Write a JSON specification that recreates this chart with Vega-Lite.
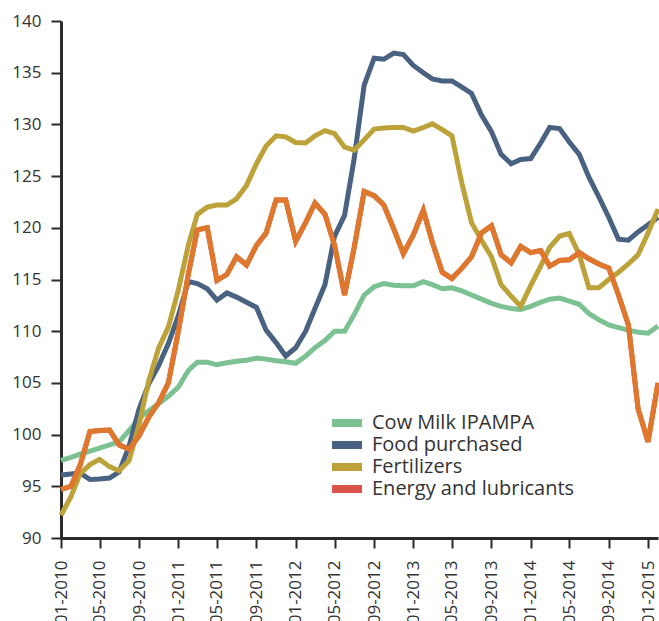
{
  "$schema": "https://vega.github.io/schema/vega-lite/v6.json",
  "autosize": "none",
  "width": 597,
  "height": 517,
  "padding": {"left": 61, "top": 21, "right": 1, "bottom": 83},
  "background": "white",
  "config": {
    "view": {"stroke": null},
    "font": "Open Sans",
    "axis": {"labelFont": "Open Sans", "labelFontSize": 17, "labelColor": "#333333", "domainColor": "#2b2b2b", "domainWidth": 3, "tickColor": "#2b2b2b", "tickWidth": 2, "tickSize": 10, "grid": false, "title": null}
  },
  "data": {"values": [
    {"d": "2010/01/01", "Cow Milk IPAMPA": 97.5, "Food purchased": 96.1, "Fertilizers": 92.2, "Energy and lubricants": 94.7},
    {"d": "2010/02/01", "Cow Milk IPAMPA": 97.8, "Food purchased": 96.2, "Fertilizers": 94.0, "Energy and lubricants": 95.0},
    {"d": "2010/03/01", "Cow Milk IPAMPA": 98.1, "Food purchased": 96.3, "Fertilizers": 96.2, "Energy and lubricants": 97.0},
    {"d": "2010/04/01", "Cow Milk IPAMPA": 98.4, "Food purchased": 95.65, "Fertilizers": 97.1, "Energy and lubricants": 100.3},
    {"d": "2010/05/01", "Cow Milk IPAMPA": 98.7, "Food purchased": 95.7, "Fertilizers": 97.6, "Energy and lubricants": 100.4},
    {"d": "2010/06/01", "Cow Milk IPAMPA": 99.0, "Food purchased": 95.8, "Fertilizers": 96.9, "Energy and lubricants": 100.45},
    {"d": "2010/07/01", "Cow Milk IPAMPA": 99.3, "Food purchased": 96.4, "Fertilizers": 96.5, "Energy and lubricants": 99.0},
    {"d": "2010/08/01", "Cow Milk IPAMPA": 100.4, "Food purchased": 98.9, "Fertilizers": 97.5, "Energy and lubricants": 98.6},
    {"d": "2010/09/01", "Cow Milk IPAMPA": 101.6, "Food purchased": 102.5, "Fertilizers": 101.0, "Energy and lubricants": 99.9},
    {"d": "2010/10/01", "Cow Milk IPAMPA": 102.3, "Food purchased": 104.9, "Fertilizers": 105.2, "Energy and lubricants": 101.7},
    {"d": "2010/11/01", "Cow Milk IPAMPA": 103.0, "Food purchased": 106.7, "Fertilizers": 108.4, "Energy and lubricants": 103.1},
    {"d": "2010/12/01", "Cow Milk IPAMPA": 103.7, "Food purchased": 108.8, "Fertilizers": 110.4, "Energy and lubricants": 105.0},
    {"d": "2011/01/01", "Cow Milk IPAMPA": 104.6, "Food purchased": 111.5, "Fertilizers": 114.0, "Energy and lubricants": 110.0},
    {"d": "2011/02/01", "Cow Milk IPAMPA": 106.2, "Food purchased": 114.8, "Fertilizers": 118.3, "Energy and lubricants": 115.5},
    {"d": "2011/03/01", "Cow Milk IPAMPA": 107.0, "Food purchased": 114.6, "Fertilizers": 121.3, "Energy and lubricants": 119.8},
    {"d": "2011/04/01", "Cow Milk IPAMPA": 107.0, "Food purchased": 114.1, "Fertilizers": 122.0, "Energy and lubricants": 120.0},
    {"d": "2011/05/01", "Cow Milk IPAMPA": 106.75, "Food purchased": 113.0, "Fertilizers": 122.2, "Energy and lubricants": 114.9},
    {"d": "2011/06/01", "Cow Milk IPAMPA": 106.95, "Food purchased": 113.7, "Fertilizers": 122.2, "Energy and lubricants": 115.5},
    {"d": "2011/07/01", "Cow Milk IPAMPA": 107.1, "Food purchased": 113.3, "Fertilizers": 122.8, "Energy and lubricants": 117.2},
    {"d": "2011/08/01", "Cow Milk IPAMPA": 107.2, "Food purchased": 112.8, "Fertilizers": 124.1, "Energy and lubricants": 116.4},
    {"d": "2011/09/01", "Cow Milk IPAMPA": 107.4, "Food purchased": 112.3, "Fertilizers": 126.2, "Energy and lubricants": 118.3},
    {"d": "2011/10/01", "Cow Milk IPAMPA": 107.3, "Food purchased": 110.1, "Fertilizers": 127.9, "Energy and lubricants": 119.5},
    {"d": "2011/11/01", "Cow Milk IPAMPA": 107.15, "Food purchased": 108.9, "Fertilizers": 128.9, "Energy and lubricants": 122.7},
    {"d": "2011/12/01", "Cow Milk IPAMPA": 107.05, "Food purchased": 107.6, "Fertilizers": 128.8, "Energy and lubricants": 122.7},
    {"d": "2012/01/01", "Cow Milk IPAMPA": 106.9, "Food purchased": 108.4, "Fertilizers": 128.25, "Energy and lubricants": 118.7},
    {"d": "2012/02/01", "Cow Milk IPAMPA": 107.6, "Food purchased": 110.0, "Fertilizers": 128.2, "Energy and lubricants": 120.5},
    {"d": "2012/03/01", "Cow Milk IPAMPA": 108.4, "Food purchased": 112.2, "Fertilizers": 128.9, "Energy and lubricants": 122.4},
    {"d": "2012/04/01", "Cow Milk IPAMPA": 109.1, "Food purchased": 114.5, "Fertilizers": 129.4, "Energy and lubricants": 121.3},
    {"d": "2012/05/01", "Cow Milk IPAMPA": 110.0, "Food purchased": 119.2, "Fertilizers": 129.1, "Energy and lubricants": 118.3},
    {"d": "2012/06/01", "Cow Milk IPAMPA": 110.0, "Food purchased": 121.2, "Fertilizers": 127.8, "Energy and lubricants": 113.5},
    {"d": "2012/07/01", "Cow Milk IPAMPA": 111.6, "Food purchased": 126.7, "Fertilizers": 127.5, "Energy and lubricants": 118.1},
    {"d": "2012/08/01", "Cow Milk IPAMPA": 113.5, "Food purchased": 133.8, "Fertilizers": 128.5, "Energy and lubricants": 123.5},
    {"d": "2012/09/01", "Cow Milk IPAMPA": 114.3, "Food purchased": 136.4, "Fertilizers": 129.55, "Energy and lubricants": 123.1},
    {"d": "2012/10/01", "Cow Milk IPAMPA": 114.6, "Food purchased": 136.3, "Fertilizers": 129.65, "Energy and lubricants": 122.2},
    {"d": "2012/11/01", "Cow Milk IPAMPA": 114.45, "Food purchased": 136.9, "Fertilizers": 129.7, "Energy and lubricants": 119.9},
    {"d": "2012/12/01", "Cow Milk IPAMPA": 114.4, "Food purchased": 136.75, "Fertilizers": 129.7, "Energy and lubricants": 117.5},
    {"d": "2013/01/01", "Cow Milk IPAMPA": 114.4, "Food purchased": 135.7, "Fertilizers": 129.35, "Energy and lubricants": 119.3},
    {"d": "2013/02/01", "Cow Milk IPAMPA": 114.8, "Food purchased": 135.0, "Fertilizers": 129.7, "Energy and lubricants": 121.7},
    {"d": "2013/03/01", "Cow Milk IPAMPA": 114.5, "Food purchased": 134.4, "Fertilizers": 130.05, "Energy and lubricants": 118.6},
    {"d": "2013/04/01", "Cow Milk IPAMPA": 114.1, "Food purchased": 134.2, "Fertilizers": 129.5, "Energy and lubricants": 115.7},
    {"d": "2013/05/01", "Cow Milk IPAMPA": 114.2, "Food purchased": 134.2, "Fertilizers": 128.9, "Energy and lubricants": 115.1},
    {"d": "2013/06/01", "Cow Milk IPAMPA": 113.9, "Food purchased": 133.6, "Fertilizers": 124.3, "Energy and lubricants": 116.1},
    {"d": "2013/07/01", "Cow Milk IPAMPA": 113.5, "Food purchased": 133.0, "Fertilizers": 120.5, "Energy and lubricants": 117.2},
    {"d": "2013/08/01", "Cow Milk IPAMPA": 113.1, "Food purchased": 130.9, "Fertilizers": 118.8, "Energy and lubricants": 119.5},
    {"d": "2013/09/01", "Cow Milk IPAMPA": 112.7, "Food purchased": 129.3, "Fertilizers": 117.2, "Energy and lubricants": 120.2},
    {"d": "2013/10/01", "Cow Milk IPAMPA": 112.4, "Food purchased": 127.1, "Fertilizers": 114.5, "Energy and lubricants": 117.4},
    {"d": "2013/11/01", "Cow Milk IPAMPA": 112.2, "Food purchased": 126.2, "Fertilizers": 113.4, "Energy and lubricants": 116.6},
    {"d": "2013/12/01", "Cow Milk IPAMPA": 112.1, "Food purchased": 126.6, "Fertilizers": 112.4, "Energy and lubricants": 118.2},
    {"d": "2014/01/01", "Cow Milk IPAMPA": 112.4, "Food purchased": 126.7, "Fertilizers": 114.4, "Energy and lubricants": 117.6},
    {"d": "2014/02/01", "Cow Milk IPAMPA": 112.8, "Food purchased": 128.2, "Fertilizers": 116.3, "Energy and lubricants": 117.8},
    {"d": "2014/03/01", "Cow Milk IPAMPA": 113.1, "Food purchased": 129.7, "Fertilizers": 118.1, "Energy and lubricants": 116.3},
    {"d": "2014/04/01", "Cow Milk IPAMPA": 113.2, "Food purchased": 129.6, "Fertilizers": 119.2, "Energy and lubricants": 116.85},
    {"d": "2014/05/01", "Cow Milk IPAMPA": 112.9, "Food purchased": 128.3, "Fertilizers": 119.45, "Energy and lubricants": 116.9},
    {"d": "2014/06/01", "Cow Milk IPAMPA": 112.6, "Food purchased": 127.1, "Fertilizers": 117.4, "Energy and lubricants": 117.6},
    {"d": "2014/07/01", "Cow Milk IPAMPA": 111.7, "Food purchased": 124.9, "Fertilizers": 114.2, "Energy and lubricants": 117.0},
    {"d": "2014/08/01", "Cow Milk IPAMPA": 111.1, "Food purchased": 123.0, "Fertilizers": 114.2, "Energy and lubricants": 116.5},
    {"d": "2014/09/01", "Cow Milk IPAMPA": 110.6, "Food purchased": 121.0, "Fertilizers": 115.0, "Energy and lubricants": 116.1},
    {"d": "2014/10/01", "Cow Milk IPAMPA": 110.35, "Food purchased": 118.9, "Fertilizers": 115.7, "Energy and lubricants": 113.5},
    {"d": "2014/11/01", "Cow Milk IPAMPA": 110.1, "Food purchased": 118.8, "Fertilizers": 116.5, "Energy and lubricants": 110.6},
    {"d": "2014/12/01", "Cow Milk IPAMPA": 109.9, "Food purchased": 119.6, "Fertilizers": 117.4, "Energy and lubricants": 102.5},
    {"d": "2015/01/01", "Cow Milk IPAMPA": 109.8, "Food purchased": 120.3, "Fertilizers": 119.5, "Energy and lubricants": 99.3},
    {"d": "2015/02/01", "Cow Milk IPAMPA": 110.5, "Food purchased": 121.0, "Fertilizers": 121.8, "Energy and lubricants": 105.0}
  ]},
  "transform": [
    {"fold": ["Cow Milk IPAMPA", "Food purchased", "Fertilizers", "Energy and lubricants"], "as": ["series", "value"]}
  ],
  "encoding": {
    "x": {"field": "d", "type": "temporal",
      "scale": {"nice": false},
      "axis": {"format": "%m-%Y", "tickCount": {"interval": "month", "step": 4}, "labelAngle": -90, "labelPadding": 12, "labelAlign": "right", "labelBaseline": "middle", "labelOverlap": false, "labelFlush": false}},
    "y": {"field": "value", "type": "quantitative",
      "scale": {"domain": [90, 140], "nice": false, "zero": false},
      "axis": {"values": [90, 95, 100, 105, 110, 115, 120, 125, 130, 135, 140], "labelPadding": 10}}
  },
  "layer": [
    {
      "mark": {"type": "line", "strokeWidth": 5, "strokeJoin": "miter"},
      "encoding": {
        "color": {"field": "series", "type": "nominal",
          "scale": {"domain": ["Cow Milk IPAMPA", "Food purchased", "Fertilizers", "Energy and lubricants"], "range": ["#7cc192", "#4a6282", "#bca239", "#d9534a"]},
          "legend": {"title": null, "orient": "none", "legendX": 276, "legendY": 392, "padding": 0,
            "symbolType": "M-2.6,-0.4H2.6V0.4H-2.6Z", "symbolSize": 100, "symbolStrokeWidth": 4,
            "labelFont": "Open Sans", "labelFontSize": 20, "labelColor": "#333333", "labelOffset": 15, "rowPadding": 2, "labelLimit": 400}}
      }
    },
    {
      "transform": [{"filter": "datum.series === 'Energy and lubricants'"}],
      "mark": {"type": "line", "strokeWidth": 5, "strokeJoin": "miter", "color": "#df772d"},
      "encoding": {}
    }
  ]
}
